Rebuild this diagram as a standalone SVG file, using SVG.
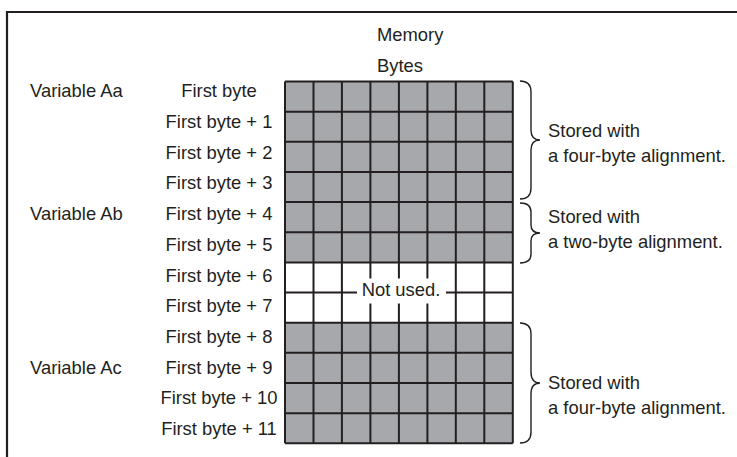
<svg xmlns="http://www.w3.org/2000/svg" width="737" height="457" viewBox="0 0 737 457">
<style>
text{font-family:"Liberation Sans",Arial,sans-serif;font-size:18.4px;fill:#231f20}
.mid{text-anchor:middle}
.cell{fill:#a7a8ab}
.grid{stroke:#231f20;stroke-width:2;fill:none}
.brace{stroke:#231f20;stroke-width:1.4;fill:none}
.frame{stroke:#231f20;stroke-width:2.2;fill:none}
</style>
<rect width="737" height="457" fill="#fff"/>
<path class="frame" d="M7,457 L7,12 L737,12"/>
<g id="header">
<text x="377" y="41">Memory</text>
<text x="377" y="72">Bytes</text>
</g>
<g id="variables">
<text x="30" y="97.3">Variable Aa</text>
<text x="30" y="220.1">Variable Ab</text>
<text x="30" y="373.6">Variable Ac</text>
</g>
<g id="row-labels">
<text class="mid" x="219" y="97.3">First byte</text>
<text class="mid" x="219" y="128">First byte + 1</text>
<text class="mid" x="219" y="158.7">First byte + 2</text>
<text class="mid" x="219" y="189.4">First byte + 3</text>
<text class="mid" x="219" y="220.1">First byte + 4</text>
<text class="mid" x="219" y="250.8">First byte + 5</text>
<text class="mid" x="219" y="281.5">First byte + 6</text>
<text class="mid" x="219" y="312.2">First byte + 7</text>
<text class="mid" x="219" y="342.9">First byte + 8</text>
<text class="mid" x="219" y="373.6">First byte + 9</text>
<text class="mid" x="219" y="404.3">First byte + 10</text>
<text class="mid" x="219" y="435">First byte + 11</text>
</g>
<g id="memory-grid">
<rect class="cell" x="285" y="81.5" width="227.8" height="180.9"/>
<rect class="cell" x="285" y="322.7" width="227.8" height="120.6"/>
<path class="grid" d="M285,81.5H512.8M285,111.65H512.8M285,141.8H512.8M285,171.95H512.8M285,202.1H512.8M285,232.25H512.8M285,262.4H512.8M285,292.55H512.8M285,322.7H512.8M285,352.85H512.8M285,383H512.8M285,413.15H512.8M285,443.3H512.8"/>
<path class="grid" d="M285,81.5V443.3M313.5,81.5V443.3M341.9,81.5V443.3M370.4,81.5V443.3M398.9,81.5V443.3M427.4,81.5V443.3M455.8,81.5V443.3M484.3,81.5V443.3M512.8,81.5V443.3"/>
</g>
<g id="not-used">
<rect x="357" y="278.5" width="89" height="25" fill="#fff"/>
<text class="mid" x="401" y="296">Not used.</text>
</g>
<g id="brace-aa">
<path class="brace" d="M520,81 Q531,81 531,92 L531,130 Q531,140 540,140 Q531,140 531,150 L531,188 Q531,199 520,199"/>
<text x="548" y="137">Stored with</text>
<text x="548" y="162">a four-byte alignment.</text>
</g>
<g id="brace-ab">
<path class="brace" d="M520,203 Q531,203 531,212 L531,225 Q531,233 540,233 Q531,233 531,241 L531,254 Q531,263 520,263"/>
<text x="548" y="223">Stored with</text>
<text x="548" y="248">a two-byte alignment.</text>
</g>
<g id="brace-ac">
<path class="brace" d="M520,323 Q531,323 531,334 L531,372 Q531,383 540,383 Q531,383 531,394 L531,432 Q531,443 520,443"/>
<text x="548" y="389">Stored with</text>
<text x="548" y="414">a four-byte alignment.</text>
</g>
</svg>
